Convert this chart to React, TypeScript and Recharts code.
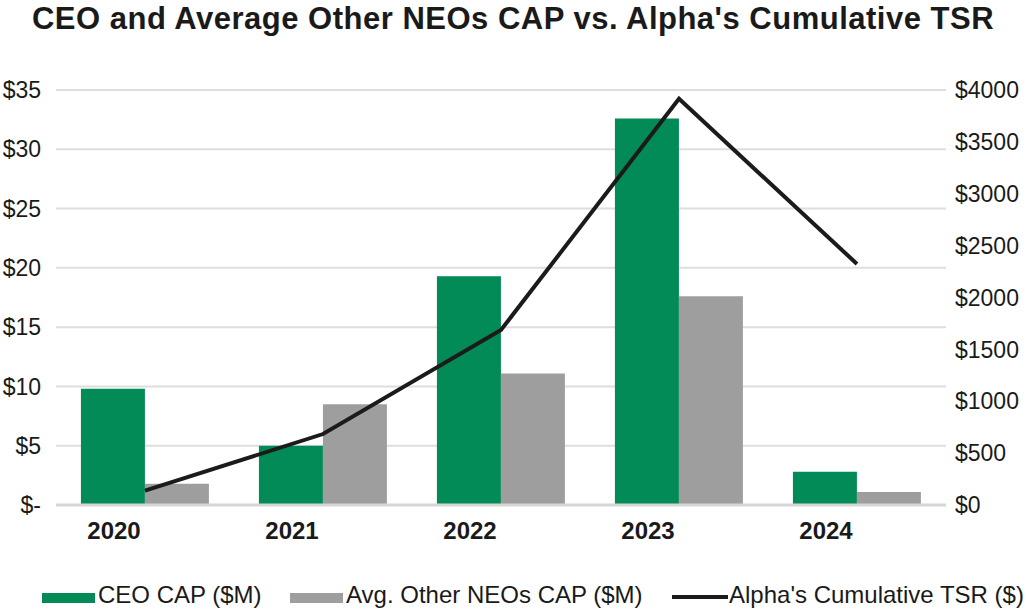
import React from "react";
import {
  ComposedChart,
  Bar,
  Line,
  XAxis,
  YAxis,
  CartesianGrid,
} from "recharts";

const years = ["2020", "2021", "2022", "2023", "2024"];
const ceoCap = [9.8, 5.0, 19.3, 32.6, 2.8];
const otherNeosCap = [1.8, 8.5, 11.1, 17.6, 1.1];
const cumulativeTsr = [138, 684, 1687, 3915, 2323];

const leftTicks = [0, 5, 10, 15, 20, 25, 30, 35];
const rightTicks = [0, 500, 1000, 1500, 2000, 2500, 3000, 3500, 4000];

const GREEN = "#028A57";
const GREY = "#9D9E9D";
const LINE = "#1B1B1B";
const FONT = "'Liberation Sans', Arial, Helvetica, sans-serif";

const data = years.map((year, i) => ({
  year,
  ceo: ceoCap[i],
  other: otherNeosCap[i],
  tsr: cumulativeTsr[i],
}));

const legendItems = [
  { label: "CEO CAP ($M)", color: GREEN, kind: "bar", left: 42 },
  { label: "Avg. Other NEOs CAP ($M)", color: GREY, kind: "bar", left: 290 },
  { label: "Alpha's Cumulative TSR ($)", color: LINE, kind: "line", left: 672 },
];

export default function App() {
  return (
    <div
      style={{
        position: "absolute",
        left: 0,
        top: 0,
        width: 1026,
        height: 610,
        background: "#fff",
        fontFamily: FONT,
      }}
    >
      <div
        style={{
          position: "absolute",
          top: 1,
          left: 0,
          width: 1026,
          textAlign: "center",
          fontSize: 31,
          fontWeight: 700,
          letterSpacing: 0.5,
          color: "#1a1a1a",
          lineHeight: "36px",
        }}
      >
        CEO and Average Other NEOs CAP vs. Alpha's Cumulative TSR
      </div>

      <div style={{ position: "absolute", left: 0, top: 0 }}>
        <ComposedChart
          width={1026}
          height={560}
          data={data}
          margin={{ top: 90, right: 0, bottom: 0, left: 0 }}
          barCategoryGap="14%"
          barGap={0}
        >
          <CartesianGrid
            yAxisId="left"
            vertical={false}
            stroke="#dedede"
            strokeWidth={2}
          />
          <XAxis
            dataKey="year"
            height={55}
            tickSize={0}
            tickMargin={17}
            axisLine={{ stroke: "#d6d6d6", strokeWidth: 3 }}
            tickLine={false}
            tick={{ fontSize: 24, fontWeight: 700, fill: "#1a1a1a", fontFamily: FONT, dx: -31 }}
          />
          <YAxis
            yAxisId="left"
            orientation="left"
            width={56}
            domain={[0, 35]}
            ticks={leftTicks}
            tickSize={0}
            tickMargin={15}
            axisLine={false}
            tickLine={false}
            tickFormatter={(v: number) => (v === 0 ? "$-" : `$${v}`)}
            tick={{ fontSize: 23, fill: "#1a1a1a", fontFamily: FONT }}
          />
          <YAxis
            yAxisId="right"
            orientation="right"
            width={80}
            domain={[0, 4000]}
            ticks={rightTicks}
            tickSize={0}
            tickMargin={9}
            axisLine={false}
            tickLine={false}
            tickFormatter={(v: number) => `$${v}`}
            tick={{ fontSize: 23, fill: "#1a1a1a", fontFamily: FONT, textAnchor: "start" }}
          />
          <Bar yAxisId="left" dataKey="ceo" fill={GREEN} isAnimationActive={false} />
          <Bar yAxisId="left" dataKey="other" fill={GREY} isAnimationActive={false} />
          <Line
            yAxisId="right"
            type="linear"
            dataKey="tsr"
            stroke={LINE}
            strokeWidth={4}
            dot={false}
            activeDot={false}
            isAnimationActive={false}
          />
        </ComposedChart>
      </div>

      {legendItems.map((item) => (
        <div
          key={item.label}
          style={{
            position: "absolute",
            top: 581,
            left: item.left,
            display: "flex",
            alignItems: "center",
            fontSize: 24,
            lineHeight: "28px",
            color: "#1a1a1a",
            whiteSpace: "nowrap",
          }}
        >
          <span
            style={{
              display: "inline-block",
              width: item.kind === "bar" ? 53 : 56,
              height: item.kind === "bar" ? 10 : 4,
              marginTop: item.kind === "bar" ? 6 : 4,
              background: item.color,
              marginRight: item.kind === "bar" ? 3 : 1,
            }}
          />
          <span>{item.label}</span>
        </div>
      ))}
    </div>
  );
}
